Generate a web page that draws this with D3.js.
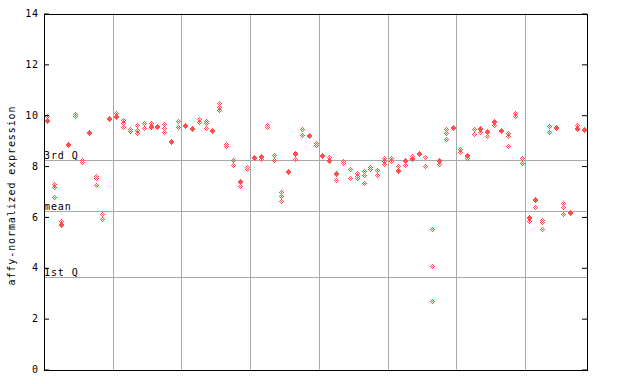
<!DOCTYPE html>
<html>
<head>
<meta charset="utf-8">
<script src="https://cdn.jsdelivr.net/npm/d3@7"></script>
<style>
html,body{margin:0;padding:0;background:#fff;}
text{font-family:"DejaVu Sans Mono",monospace;font-size:10px;fill:#000;}
</style>
</head>
<body>
<svg id="chart" width="640" height="384"></svg>
<script>
// replicate expression values per sample (79 samples)
const sampleValues = [
  [9.95, 9.8, 9.77], [7.31, 7.16, 6.77], [5.85, 5.72, 5.68], [8.86, 8.83], [10.05, 9.98],
  [8.25, 8.15], [9.35, 9.3], [7.6, 7.55, 7.25], [6.1, 5.92], [9.9, 9.86],
  [10.07, 9.97, 9.94], [9.8, 9.68, 9.53], [9.44, 9.38], [9.6, 9.42, 9.3], [9.68, 9.5],
  [9.7, 9.58, 9.55], [9.56, 9.52], [9.64, 9.48, 9.35], [8.99, 8.95], [9.76, 9.55],
  [9.63, 9.58], [9.5, 9.46], [9.86, 9.72], [9.76, 9.68, 9.5], [9.4, 9.37],
  [10.47, 10.33, 10.2], [8.85, 8.8], [8.22, 8.05], [7.4, 7.37, 7.22], [7.98, 7.9],
  [8.36, 8.3], [8.4, 8.36, 8.27], [9.6, 9.52], [8.45, 8.24], [7.0, 6.83, 6.63],
  [7.8, 7.75], [8.52, 8.48, 8.27], [9.45, 9.22], [9.24, 9.2], [8.9, 8.82],
  [8.43, 8.39], [8.35, 8.22, 8.2], [7.74, 7.7, 7.45], [8.18, 8.12], [7.9, 7.52],
  [7.73, 7.6, 7.52], [7.8, 7.64, 7.32], [7.95, 7.9], [7.83, 7.64], [8.33, 8.21, 8.1],
  [8.3, 8.18], [8.0, 7.84, 7.8], [8.23, 8.2, 8.05], [8.38, 8.3, 8.27], [8.52, 8.46],
  [8.35, 7.99], [5.52, 4.07, 2.69], [8.22, 8.2, 8.1], [9.45, 9.32, 9.05], [9.53, 9.48],
  [8.66, 8.57, 8.55], [8.45, 8.41, 8.3], [9.46, 9.26], [9.5, 9.46, 9.35], [9.37, 9.33, 9.18],
  [9.76, 9.72, 9.63], [9.4, 9.36], [9.32, 9.18, 8.79], [10.1, 9.97], [8.3, 8.12],
  [6.0, 5.96, 5.85], [6.72, 6.68, 6.38], [5.88, 5.8, 5.51], [9.58, 9.35], [9.55, 9.5],
  [6.53, 6.38, 6.1], [6.18, 6.15], [9.62, 9.5, 9.46], [9.44, 9.4]
];
const yTicks = [0, 2, 4, 6, 8, 10, 12, 14];
const refLabels = ["3rd Q", "mean", "1st Q"];
const refValues = [8.24, 6.22, 3.62];
const gridEvery = 10;
const yTitle = "affy-normalized expression";

const svg = d3.select("#chart");
const L = 44, R = 587, T = 13.5, B = 369.5;
const n = sampleValues.length;
const x = d3.scaleLinear().domain([0, n]).range([L, R]);
const y = d3.scaleLinear().domain([0, 14]).range([B, T]);

// checker patterns (two phases)
const defs = svg.append("defs");
const red = "#ff4f4f";
[0, 1].forEach(ph => {
  const p = defs.append("pattern").attr("id", "chk" + ph)
    .attr("patternUnits", "userSpaceOnUse").attr("width", 2).attr("height", 2);
  p.append("rect").attr("x", ph).attr("y", 0).attr("width", 1).attr("height", 1).attr("fill", red);
  p.append("rect").attr("x", 1 - ph).attr("y", 1).attr("width", 1).attr("height", 1).attr("fill", red);
});

// vertical gridlines
const gx = d3.range(gridEvery, n, gridEvery);
svg.append("g").selectAll("line").data(gx).join("line")
  .attr("x1", d => Math.round(x(d)) + 0.5).attr("x2", d => Math.round(x(d)) + 0.5)
  .attr("y1", T).attr("y2", B)
  .attr("stroke", "#a8a8a8").attr("stroke-width", 1);

// reference lines
svg.append("g").selectAll("line").data(refValues).join("line")
  .attr("x1", L).attr("x2", R)
  .attr("y1", d => Math.round(y(d)) + 0.5).attr("y2", d => Math.round(y(d)) + 0.5)
  .attr("stroke", "#a8a8a8").attr("stroke-width", 1);
svg.append("g").selectAll("text").data(refLabels).join("text")
  .attr("x", L).attr("y", (d, i) => Math.round(y(refValues[i])) - 1)
  .attr("letter-spacing", "0.9px")
  .text(d => d);

// points
const pts = [];
sampleValues.forEach((vals, i) => vals.forEach(v => pts.push({ i, v })));
svg.append("g").selectAll("path").data(pts).join("path")
  .attr("d", d => {
    const cx = Math.round(x(d.i + 0.5)), cy = Math.round(y(d.v));
    return `M${cx + 0.5},${cy - 3} L${cx + 3},${cy + 0.5} L${cx + 0.5},${cy + 4} L${cx - 2},${cy + 0.5} Z`;
  })
  .attr("fill", d => {
    const cx = Math.round(x(d.i + 0.5)), cy = Math.round(y(d.v));
    return "url(#chk" + ((cx + cy) % 2) + ")";
  })
  .attr("shape-rendering", "crispEdges");

// axes (ticks inward on both sides)
const yAxisL = d3.axisLeft(y).tickValues(yTicks).tickSizeInner(-5).tickSizeOuter(0).tickPadding(5).tickFormat(d3.format("d"));
const gl = svg.append("g").attr("transform", `translate(${L},0)`).call(yAxisL);
gl.select(".domain").remove();
gl.selectAll("line").attr("stroke", "#000");
gl.selectAll("text").style("font-size", "10px").attr("letter-spacing", "0.9px");

const yAxisR = d3.axisRight(y).tickValues(yTicks).tickSizeInner(-5).tickSizeOuter(0).tickFormat("");
const gr = svg.append("g").attr("transform", `translate(${R},0)`).call(yAxisR);
gr.select(".domain").remove();
gr.selectAll("line").attr("stroke", "#000");

// frame
svg.append("rect").attr("x", L + 0.5).attr("y", Math.round(T) + 0.5)
  .attr("width", R - L).attr("height", Math.round(B) - Math.round(T))
  .attr("fill", "none").attr("stroke", "#000").attr("stroke-width", 1);

// y title
svg.append("text")
  .attr("transform", `translate(15,${(T + B) / 2 + 4}) rotate(-90)`)
  .attr("text-anchor", "middle")
  .attr("letter-spacing", "0.9px")
  .text(yTitle);
</script>
</body>
</html>
